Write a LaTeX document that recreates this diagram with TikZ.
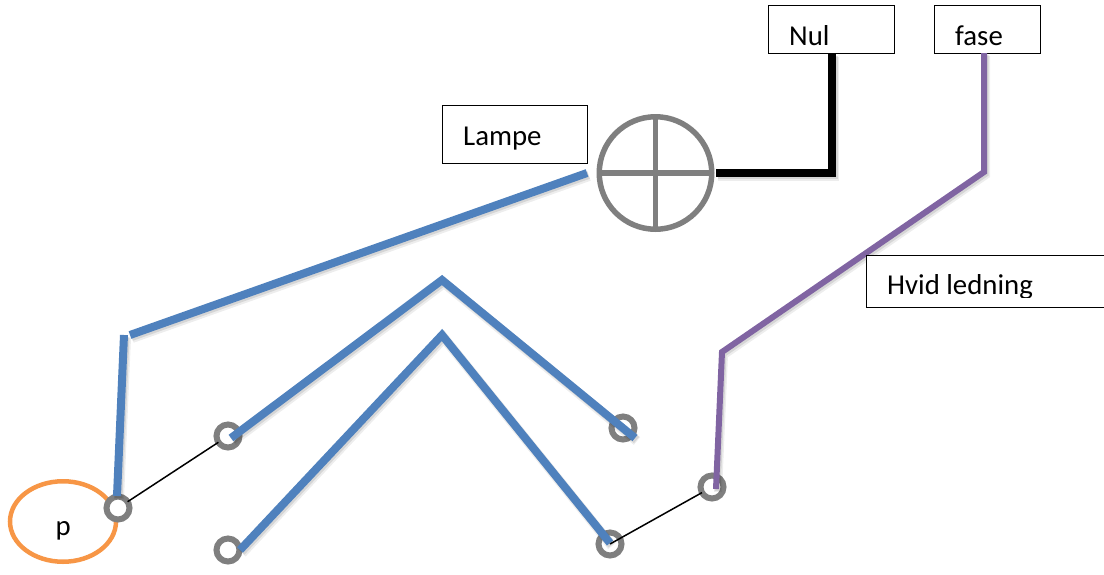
\documentclass[tikz,border=0pt]{standalone}
\usepackage{fontspec}
\usetikzlibrary{shapes.geometric}
\setmainfont{Carlito}
\definecolor{wireblue}{HTML}{4F81BD}
\definecolor{wirepurple}{HTML}{8064A2}
\definecolor{ringgray}{HTML}{7F7F7F}
\definecolor{ringorange}{HTML}{F79646}
\tikzset{
  soft/.style={preaction={draw=black,opacity=.07,line width=#1+2pt,transform canvas={shift={(2pt,-3pt)}}},
               preaction={draw=black,opacity=.10,line width=#1,transform canvas={shift={(1.5pt,-2pt)}}},line width=#1},
  bluewire/.style={draw=wireblue,soft=8pt,line cap=butt,line join=miter},
  purplewire/.style={draw=wirepurple,soft=6pt,line cap=butt,line join=miter},
  blackwire/.style={draw=black,soft=8pt,line cap=butt,line join=miter},
  thinwire/.style={draw=black,line width=1.5pt},
  labelbox/.style={draw=black,line width=1pt,fill=white,rectangle,inner sep=0pt,anchor=north west},
  labeltext/.style={font=\fontsize{28.8}{32}\selectfont,anchor=base west,inner sep=0pt},
  terminal/.style={draw=ringgray,line width=6pt,circle,inner sep=0pt,minimum size=23pt,outer sep=0pt},
  lamp/.style={draw=ringgray,line width=5.5pt,circle,inner sep=0pt,minimum size=112.5pt,outer sep=0pt}
}
\begin{document}
\begin{tikzpicture}[x=1pt,y=-1pt]
\useasboundingbox (0,0) rectangle (1104,574);

% boxes
\node[labelbox,minimum width=145pt,minimum height=58pt] (lampebox) at (442,105) {};
\node[labelbox,minimum width=126pt,minimum height=48pt] (nulbox) at (768,5) {};
\node[labelbox,minimum width=106pt,minimum height=48pt] (fasebox) at (934,5) {};
\node[labeltext] (lampetext) at (463,145) {Lampe};
\node[labeltext] (nultext) at (789,45) {Nul};
\node[labeltext] (fasetext) at (955,45) {fase};

% lamp
\node[lamp] (lampsym) at (655.5,173) {};
\draw[ringgray,line width=5.5pt] (lampsym.west) -- (lampsym.east);
\draw[ringgray,line width=5.5pt] (lampsym.north) -- (lampsym.south);

% phase wire coordinates
\coordinate (ph1) at (984,53);
\coordinate (ph2) at (984,172);
\coordinate (ph3) at (722,352);
\coordinate (ph4) at (716,489);

% terminals and loop
\node[draw=ringorange,line width=4.5pt,ellipse,minimum width=106pt,minimum height=80.5pt,inner sep=0pt] (ploop) at (63,521.5) {};
\node[labeltext] (ptext) at (55.5,535) {p};
\node[terminal,fill=white] (tA) at (118,508) {};
\node[terminal] (tB) at (228,436) {};
\node[terminal] (tC) at (228,550) {};
\node[terminal] (tD) at (623,428) {};
\node[terminal] (tE) at (610,544) {};
\node[terminal] (tF) at (712,487) {};

% wires
\coordinate (bl1) at (587,173);
\coordinate (bl2) at (130,335);
\coordinate (bl3) at (124,335);
\coordinate (bl4) at (117,496);
\draw[bluewire] (bl1) -- (bl2);
\draw[bluewire] (bl3) -- (bl4);
\coordinate (up1) at (231,438);
\coordinate (up2) at (442,280);
\coordinate (up3) at (635,438);
\draw[bluewire] (up1) -- (up2) -- (up3);
\coordinate (lo1) at (240,550);
\coordinate (lo2) at (442,335);
\coordinate (lo3) at (610,543);
\draw[bluewire] (lo1) -- (lo2) -- (lo3);
\coordinate (bk1) at (716,173);
\coordinate (bk2) at (832,173);
\draw[blackwire] (bk1) -- (bk2) -- (bk2 |- nulbox.south);
\draw[purplewire] (ph1) -- (ph2) -- (ph3) -- (ph4);
\draw[thinwire] (tA) -- (tB);
\draw[thinwire] (tE.center) -- (tF);

% label with clipped text
\node[labelbox,minimum width=237.5pt,minimum height=52pt] (hvidbox) at (866,255) {};
\begin{scope}
\clip (866,255) rectangle (1104,297);
\node[labeltext] (hvidtext) at (887,294) {Hvid ledning};
\end{scope}
\end{tikzpicture}
\end{document}
